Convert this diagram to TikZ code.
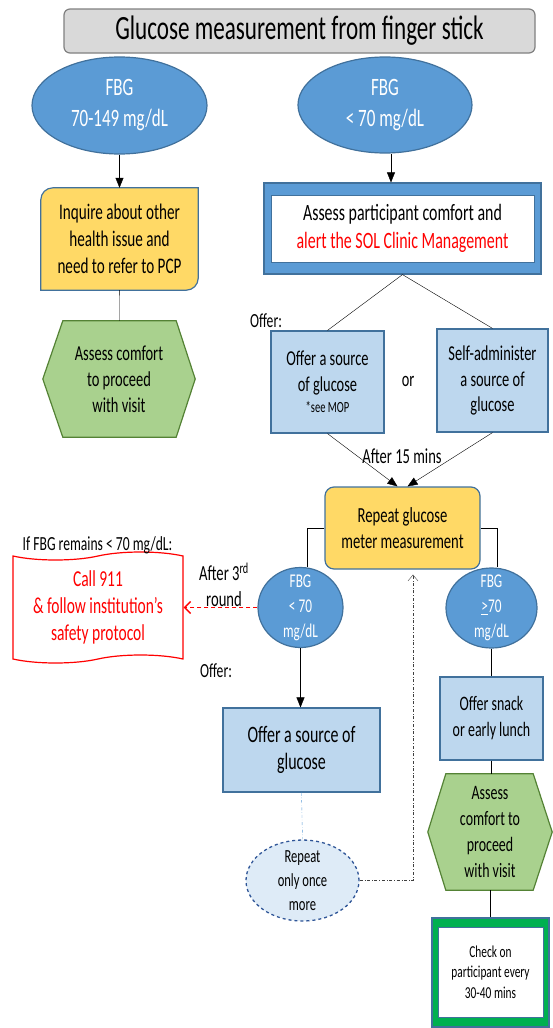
\documentclass[tikz,border=0pt]{standalone}
\usepackage{fontspec}
\setmainfont{Carlito}[FakeStretch=0.68]
\usetikzlibrary{shapes.geometric,shapes.symbols,arrows.meta,backgrounds}

\definecolor{titlegray}{HTML}{D9D9D9}
\definecolor{titleedge}{HTML}{808080}
\definecolor{fbgblue}{HTML}{5B9BD5}
\definecolor{edgeblue}{HTML}{41719C}
\definecolor{paleblue}{HTML}{BDD7EE}
\definecolor{paleblue2}{HTML}{DEEBF7}
\definecolor{darkblue}{HTML}{2F5597}
\definecolor{boxyellow}{HTML}{FFD966}
\definecolor{hexgreen}{HTML}{A9D18E}
\definecolor{hexedge}{HTML}{548235}
\definecolor{framegreen}{HTML}{00B050}
\definecolor{alertred}{HTML}{FF0000}
\definecolor{loopgray}{HTML}{404040}

\newcommand{\sizedfont}[2]{\fontsize{#1}{#2}\selectfont}

\begin{document}
\begin{tikzpicture}[x=1pt, y=-1pt,
    fbg/.style={ellipse, draw=edgeblue, fill=fbgblue, line width=1.2pt, text=white, align=center, inner sep=-8pt},
    lightbox/.style={rectangle, draw=edgeblue, fill=paleblue, line width=1.2pt, align=center, inner sep=0pt},
    bare/.style={rectangle, align=center, inner sep=0pt},
    hexfill/.style={draw=hexedge, fill=hexgreen, line width=1.2pt},
    conn/.style={-{Triangle[length=10pt,width=8pt]}}]

    \useasboundingbox (0,0) rectangle (552,1028);

    \node[draw=titleedge, fill=titlegray, rounded corners=6pt, line width=1.2pt, minimum width=471, minimum height=44, font=\sizedfont{34}{38}] (title) at (299.5,31) {Glucose measurement from finger stick};

    % normal glucose
    \node[fbg, minimum width=175, minimum height=97, font=\sizedfont{25}{31}] (fbgnormal) at (119.5,105.5) {FBG\\70-149 mg/dL};
    \node[bare, minimum width=157, minimum height=102, font=\sizedfont{22.3}{27}] (inquire) at (119.5,239) {Inquire about other\\health issue and\\need to refer to PCP};
    \node[bare, minimum width=152, minimum height=116, font=\sizedfont{21.3}{26}] (assessleft) at (119,379) {Assess comfort\\to proceed\\with visit};

    \draw[conn] (fbgnormal) -- (inquire);
    \draw (inquire) -- (assessleft);

    % low glucose
    \node[fbg, minimum width=174, minimum height=96, font=\sizedfont{25}{31}] (fbglow) at (385,105) {FBG\\< 70 mg/dL};
    \node[draw=edgeblue, fill=fbgblue, line width=1.2pt, minimum width=277, minimum height=91] (assessframe) at (402.5,228.5) {};
    \node[draw=edgeblue, fill=white, line width=1pt, minimum width=263, minimum height=67, align=center, inner sep=0pt, font=\sizedfont{23.4}{27.7}] (assessbox) at (402.5,228.5) {Assess participant comfort and\\\textcolor{alertred}{alert the SOL Clinic Management}};

    \draw[conn] ([xshift=6]fbglow.south) -- ([xshift=-11.5]assessframe.north);

    \node[lightbox, minimum width=113, minimum height=102, font=\sizedfont{21.2}{25.7}] (offerglucose) at (327.5,382) {Offer a source\\of glucose\\[-4pt]{\sizedfont{15.5}{16}*see MOP}};
    \node[lightbox, minimum width=111, minimum height=103, font=\sizedfont{21.2}{25.7}] (selfadmin) at (492.5,380.5) {Self-administer\\a source of\\glucose};
    \node[font=\sizedfont{20}{22}] (offerlabel) at (266,321) {Offer:};
    \node[font=\sizedfont{21}{22}] (orlabel) at (408,381) {or};

    \draw (assessframe.south) -- (offerglucose.north);
    \draw (assessframe.south) -- (selfadmin.north);

    \node[draw=edgeblue, fill=boxyellow, line width=1.2pt, rounded corners=9pt, minimum width=155, minimum height=82, align=center, inner sep=0pt, font=\sizedfont{21.5}{26.7}] (repeatmeas) at (402.5,528) {Repeat glucose\\meter measurement};
    \node[font=\sizedfont{21.4}{22}] (afterlabel) at (402,456) {After 15 mins};

    \draw[conn] (offerglucose.south) -- ([xshift=-5]repeatmeas.north);
    \draw[conn] (selfadmin.south) -- ([xshift=5]repeatmeas.north);

    % second reading
    \node[fbg, minimum width=85, minimum height=80, font=\sizedfont{19.5}{25}] (fbglow2) at (300.5,607.5) {FBG\\< 70\\mg/dL};
    \node[fbg, minimum width=91, minimum height=80, font=\sizedfont{19.5}{25}] (fbghigh) at (491.5,608) {FBG\\\underline{>}70\\mg/dL};

    \draw (repeatmeas.west) -| ([xshift=6.5]fbglow2.north);
    \draw (repeatmeas.east) -| ([xshift=5.5]fbghigh.north);

    \node[tape, draw=alertred, fill=white, line width=1.2pt, tape bend height=8pt, minimum width=170, minimum height=111, align=center, text=alertred, font=\sizedfont{22.8}{26.7}] (callbox) at (98,607.5) {Call 911\\\& follow institution’s\\safety protocol};
    \node[font=\sizedfont{20}{22}] (remainslabel) at (97.5,545) {If FBG remains < 70 mg/dL:};
    \node[align=center, font=\sizedfont{21.5}{26}] (thirdlabel) at (224,585) {After 3\textsuperscript{rd}\\round};

    \draw[draw=alertred, dash pattern=on 4pt off 3pt, line width=1.4pt, -{Straight Barb[length=6pt,width=12pt]}] (fbglow2.west) -- (callbox.east);

    \node[lightbox, minimum width=157, minimum height=84, font=\sizedfont{23.5}{27.7}] (offersource) at (301.5,750) {Offer a source of\\glucose};
    \node[font=\sizedfont{20}{22}] (offerlabel2) at (216,671) {Offer:};
    \node[ellipse, draw=darkblue, fill=paleblue2, dashed, line width=1.3pt, minimum width=113, minimum height=81, inner sep=-8pt, align=center, font=\sizedfont{18.5}{24.3}] (repeatonce) at (302.5,880.5) {Repeat\\only once\\more};

    \draw[conn] (fbglow2.south) -- (fbglow2.south |- offersource.north);
    \draw[fbgblue, dash dot] (offersource.south) -- (repeatonce.north);
    \draw[loopgray, dash dot, -{Straight Barb[length=6pt,width=10pt]}, shorten >=5pt] (repeatonce.east) -| ([xshift=10.5]repeatmeas.south);

    \node[lightbox, minimum width=103, minimum height=83, font=\sizedfont{20.5}{26}] (offersnack) at (491.5,718.5) {Offer snack\\or early lunch};
    \node[bare, minimum width=124, minimum height=116, font=\sizedfont{20.5}{26}] (assessright) at (490,832) {Assess\\comfort to\\proceed\\with visit};
    \node[draw=edgeblue, fill=framegreen, line width=1.2pt, minimum width=117, minimum height=109] (checkframe) at (490.5,972.5) {};
    \node[draw=edgeblue, fill=white, line width=1pt, minimum width=105, minimum height=90, align=center, inner sep=0pt, font=\sizedfont{16.7}{20.5}] (checkbox) at (490.5,972) {Check on\\participant every\\30-40 mins};

    \draw (fbghigh) -- (offersnack);
    \draw (offersnack.south) -- (offersnack.south |- assessright.north);
    \draw (assessright.south) -- (assessright.south |- checkframe.north);

    \begin{scope}[on background layer]
        \draw[draw=edgeblue, fill=boxyellow, line width=1.2pt] (inquire.south west) [rounded corners=12pt] -- (inquire.north west) [sharp corners] -- (inquire.north east) [rounded corners=12pt] -- (inquire.south east) [sharp corners] -- cycle;
        \draw[hexfill] ([xshift=20]assessleft.north west) -- ([xshift=-19]assessleft.north east) -- (assessleft.east) -- ([xshift=-19]assessleft.south east) -- ([xshift=20]assessleft.south west) -- (assessleft.west) -- cycle;
        \draw[hexfill] ([xshift=18]assessright.north west) -- ([xshift=-19]assessright.north east) -- (assessright.east) -- ([xshift=-19]assessright.south east) -- ([xshift=18]assessright.south west) -- (assessright.west) -- cycle;
    \end{scope}

\end{tikzpicture}
\end{document}
